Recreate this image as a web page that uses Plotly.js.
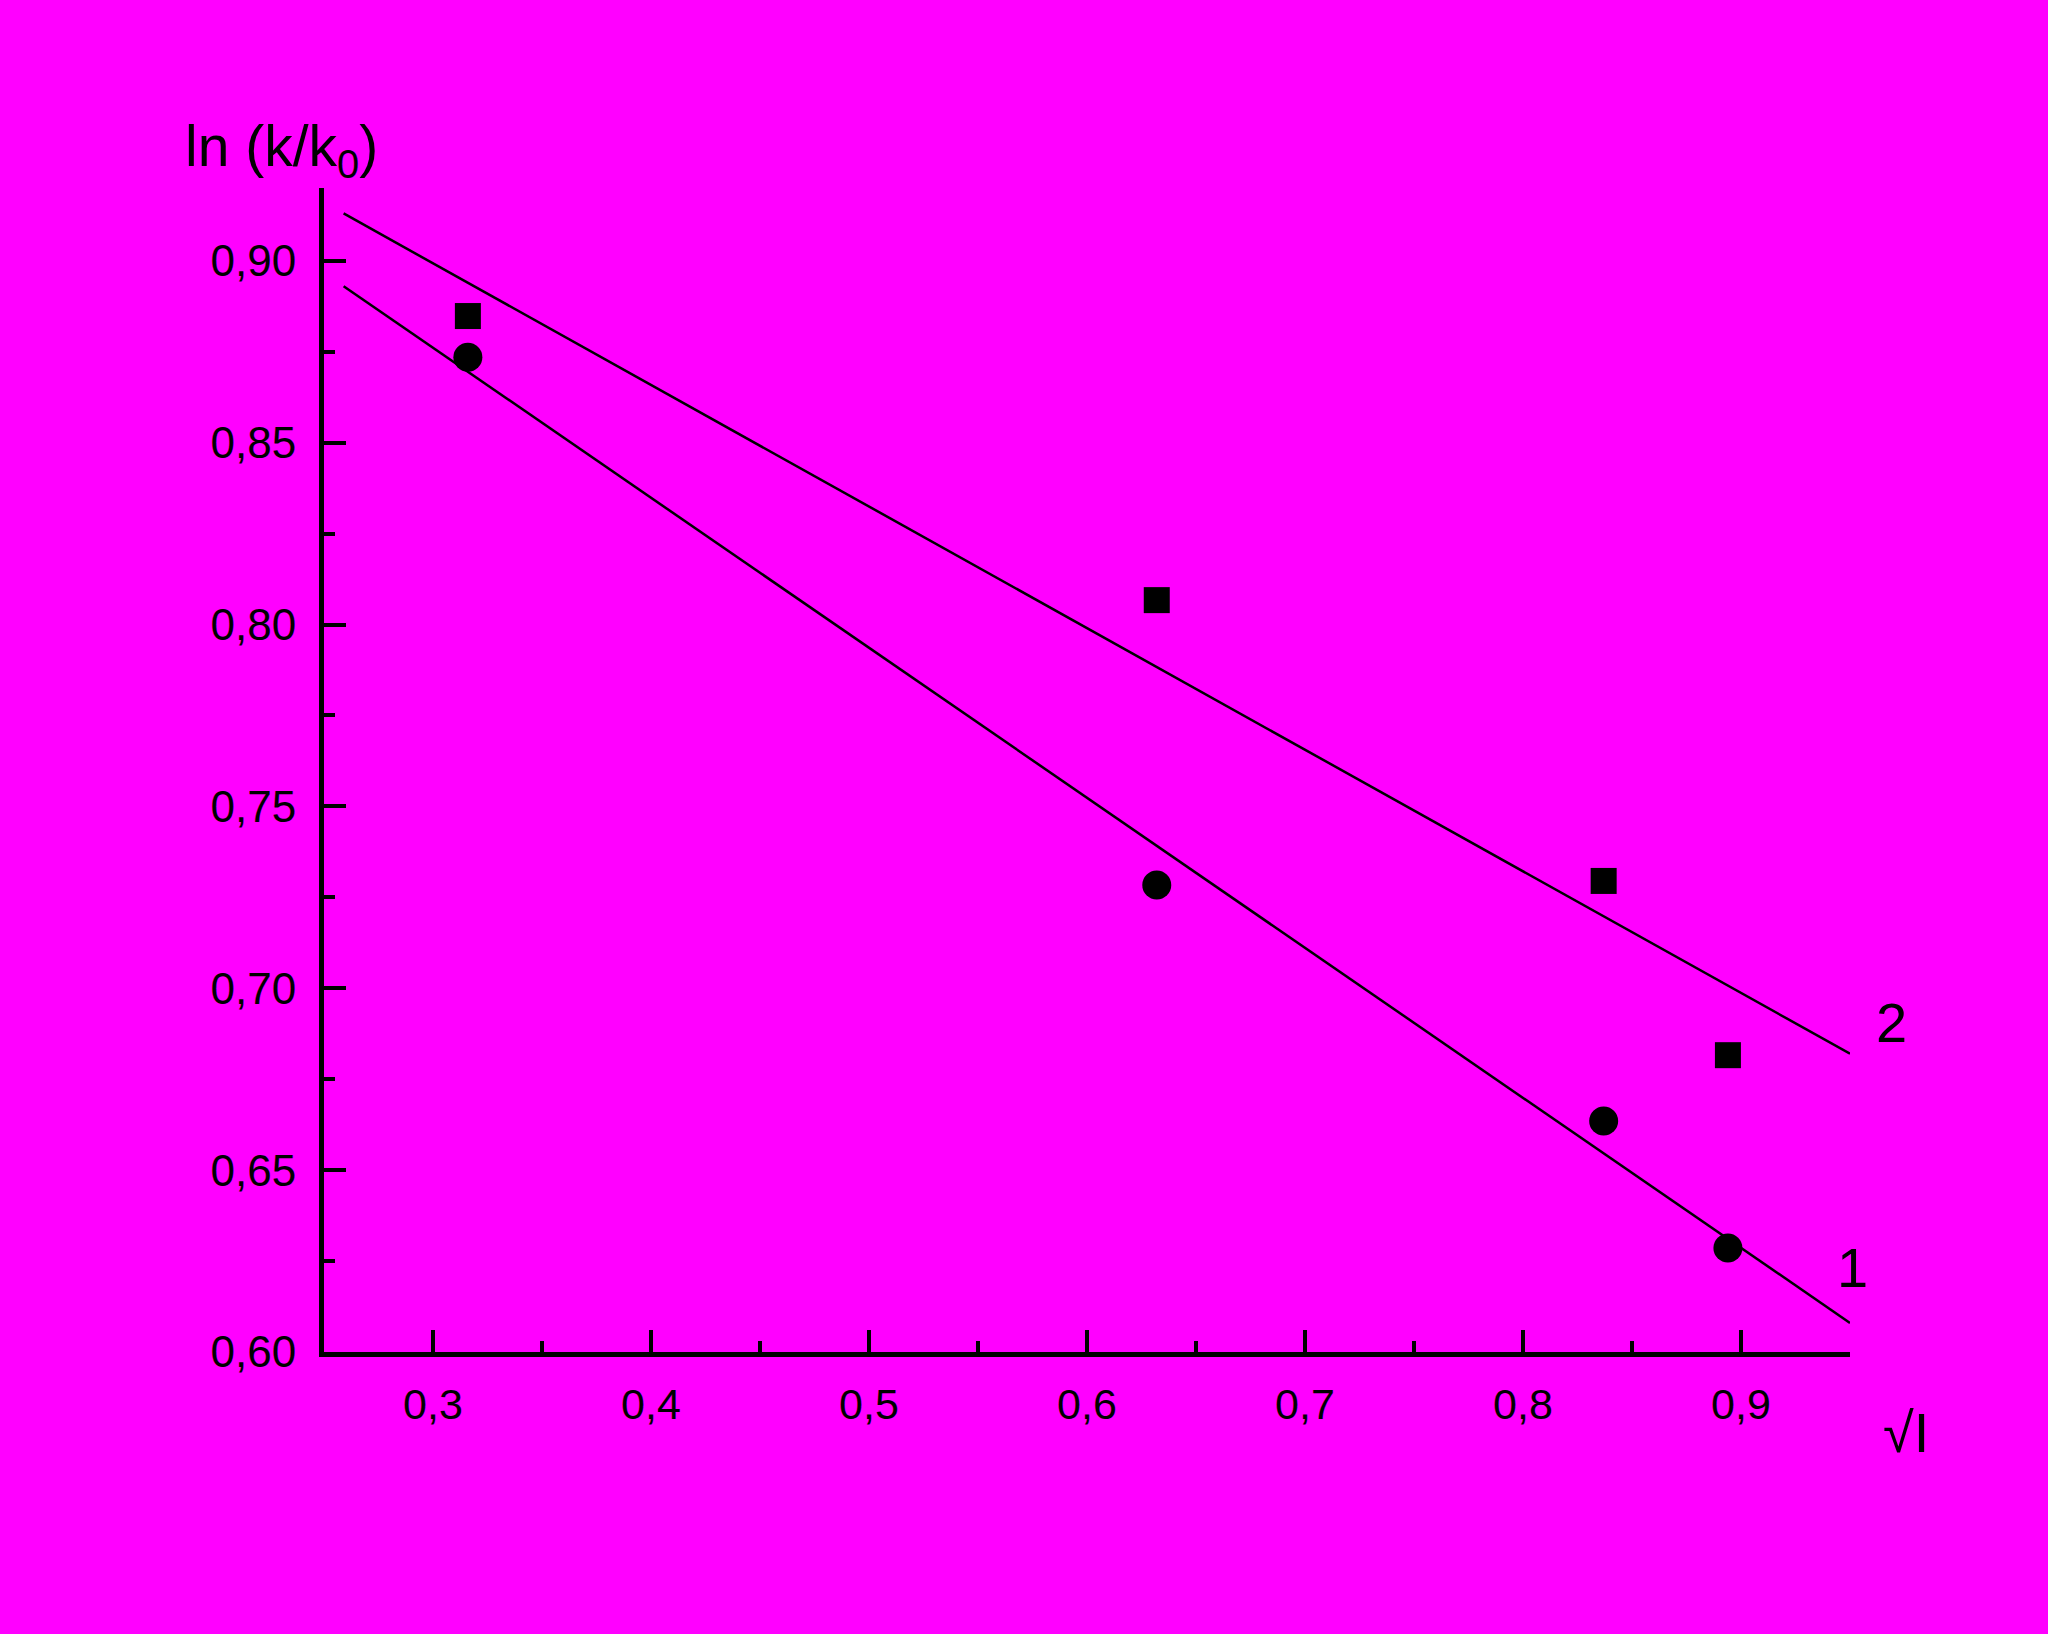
<!DOCTYPE html>
<html>
<head>
<meta charset="utf-8">
<script src="https://cdn.plot.ly/plotly-3.0.1.min.js"></script>
<style>html,body{margin:0;padding:0;background:#ff00ff;}</style>
</head>
<body>
<div id="chart" style="width:2048px;height:1634px;"></div>
<script>
// Data
const sqrtI = [0.316, 0.632, 0.837, 0.894];
const series1 = [0.8735, 0.7284, 0.6635, 0.6286];   // circles, curve 1
const series2 = [0.8848, 0.8067, 0.7295, 0.6816];   // squares, curve 2
const fitX = [0.259, 0.95];
const fit1 = [0.893, 0.608];
const fit2 = [0.913, 0.682];
const xTicks = [0.3, 0.4, 0.5, 0.6, 0.7, 0.8, 0.9];
const yTicks = [0.60, 0.65, 0.70, 0.75, 0.80, 0.85, 0.90];

const font = 'Arial, "Liberation Sans", sans-serif';

const traces = [
  {x: fitX, y: fit1, mode: 'lines', line: {color: '#000', width: 2.5}, showlegend: false, hoverinfo: 'skip'},
  {x: fitX, y: fit2, mode: 'lines', line: {color: '#000', width: 2.5}, showlegend: false, hoverinfo: 'skip'},
  {x: sqrtI, y: series1, mode: 'markers', marker: {symbol: 'circle', size: 29, color: '#000'}, showlegend: false, cliponaxis: false},
  {x: sqrtI, y: series2, mode: 'markers', marker: {symbol: 'square', size: 26, color: '#000'}, showlegend: false, cliponaxis: false}
];

const W = 2048, H = 1634, L = 324, R = 198, T = 188, B = 282;
const pw = W - L - R, ph = H - T - B;
const px = v => (v - L) / pw;
const py = v => (H - B - v) / ph;

const layout = {
  width: W, height: H,
  paper_bgcolor: '#ff00ff', plot_bgcolor: '#ff00ff',
  margin: {l: L, r: R, t: T, b: B, pad: 0},
  separators: ',.',
  font: {family: font, color: '#000', size: 44},
  xaxis: {
    range: [0.25, 0.95], showgrid: false, zeroline: false,
    showline: true, linecolor: '#000', linewidth: 5,
    ticks: 'inside', ticklen: 22, tickwidth: 4, tickcolor: '#000',
    tickmode: 'array', tickvals: xTicks, ticktext: xTicks.map(v => v.toFixed(1).replace('.', ',')),
    minor: {ticks: 'inside', ticklen: 11, tickwidth: 4, tickcolor: '#000', dtick: 0.05, tick0: 0, showgrid: false},
    tickfont: {family: font, size: 43, color: '#000'},
    ticklabelstandoff: 10
  },
  yaxis: {
    range: [0.60, 0.92], showgrid: false, zeroline: false,
    showline: true, linecolor: '#000', linewidth: 5,
    ticks: 'inside', ticklen: 22, tickwidth: 4, tickcolor: '#000',
    tickmode: 'array', tickvals: yTicks, ticktext: yTicks.map(v => v.toFixed(2).replace('.', ',')),
    minor: {ticks: 'inside', ticklen: 11, tickwidth: 4, tickcolor: '#000', dtick: 0.025, tick0: 0, showgrid: false},
    tickfont: {family: font, size: 44, color: '#000'},
    ticklabelstandoff: 14
  },
  annotations: [
    {xref: 'paper', yref: 'paper', x: px(281), y: py(150), xanchor: 'center', yanchor: 'middle',
     text: 'ln (k/k<sub>0</sub>)', showarrow: false, font: {family: font, size: 57, color: '#000'}},
    {xref: 'paper', yref: 'paper', x: px(1891), y: py(1022), xanchor: 'center', yanchor: 'middle',
     text: '2', showarrow: false, font: {family: font, size: 56, color: '#000'}},
    {xref: 'paper', yref: 'paper', x: px(1852), y: py(1267), xanchor: 'center', yanchor: 'middle',
     text: '1', showarrow: false, font: {family: font, size: 56, color: '#000'}},
    {xref: 'paper', yref: 'paper', x: px(1906), y: py(1432), xanchor: 'center', yanchor: 'middle',
     text: '√I', showarrow: false, font: {family: font, size: 56, color: '#000'}}
  ]
};

Plotly.newPlot('chart', traces, layout, {displayModeBar: false, staticPlot: true});
</script>
</body>
</html>
